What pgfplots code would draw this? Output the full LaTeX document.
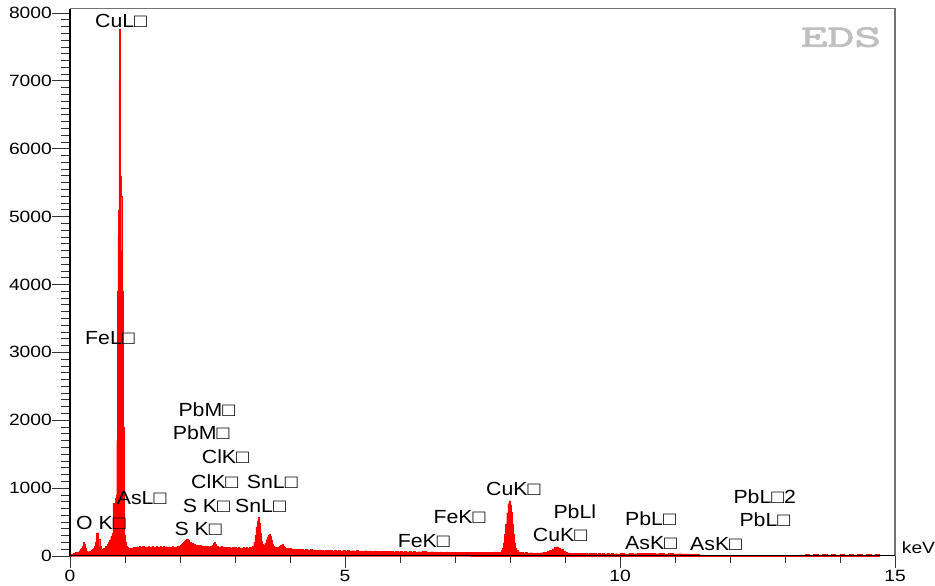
\documentclass[border=0pt]{standalone}
\usepackage{fontspec}
\setmainfont{Liberation Sans}[FakeStretch=1.18]
\newfontfamily\labfont{Liberation Sans}[FakeStretch=1.12]
\newfontfamily\edsfont{Latin Modern Mono}[FakeBold=2.8, FakeStretch=1.68]
\usepackage{pgfplots}
\pgfplotsset{compat=1.18}
\newcommand\lab{\labfont\fontsize{19}{22}\selectfont}
\newcommand\tck{\fontsize{16.3}{19}\selectfont}
\begin{document}
\begin{tikzpicture}
\useasboundingbox (-70pt,-30pt) rectangle (865pt,556pt);
\begin{axis}[at={(0pt,0pt)}, anchor=south west, scale only axis,
  width=825pt, height=547.3pt, xmin=0, xmax=15, ymin=0, ymax=8063,
  axis line style={draw=none}, tick align=outside,
  xtick={0,5,10,15}, minor xtick={1,2,3,4,6,7,8,9,11,12,13,14},
  xtick pos=left, ytick=\empty,
  major tick length=12pt, minor tick length=7pt,
  tick style={black!80, line width=0.8pt},
  xticklabel style={font=\tck, inner sep=0pt, anchor=north, yshift=-2pt},
  /pgf/number format/assume math mode=true, clip=false]
\addplot[const plot, fill=red, draw=red, line width=0.3pt] coordinates {
(0.00,0)(0.02,20)(0.04,30)(0.06,40)(0.08,35)(0.10,50)(0.12,60)(0.14,55)(0.16,75)(0.18,95)
(0.20,110)(0.22,150)(0.24,205)(0.26,170)(0.28,110)(0.30,70)(0.32,60)(0.34,75)(0.36,70)(0.38,90)
(0.40,95)(0.42,110)(0.44,140)(0.46,200)(0.48,330)(0.50,340)(0.52,250)(0.54,140)(0.56,95)(0.58,90)
(0.60,110)(0.62,120)(0.64,140)(0.66,150)(0.68,170)(0.70,200)(0.72,240)(0.74,290)(0.76,330)(0.78,780)
(0.80,700)(0.82,850)(0.84,900)(0.85,1700)(0.86,3900)(0.87,4700)(0.88,5100)(0.89,7000)(0.90,7760)(0.91,6180)
(0.92,5600)(0.93,5300)(0.94,4500)(0.95,3900)(0.96,3800)(0.97,1900)(0.98,400)(0.99,300)(1.00,200)(1.02,150)
(1.04,130)(1.06,110)(1.08,120)(1.10,105)(1.12,115)(1.14,125)(1.16,110)(1.18,130)(1.20,120)(1.22,135)
(1.24,125)(1.26,140)(1.28,130)(1.30,125)(1.32,140)(1.34,130)(1.36,120)(1.38,135)(1.40,125)(1.42,140)
(1.44,130)(1.46,120)(1.48,135)(1.50,140)(1.52,125)(1.54,130)(1.56,145)(1.58,130)(1.60,120)(1.62,135)
(1.64,140)(1.66,125)(1.68,130)(1.70,140)(1.72,125)(1.74,135)(1.76,130)(1.78,120)(1.80,135)(1.82,125)
(1.84,130)(1.86,140)(1.88,135)(1.90,125)(1.92,130)(1.94,140)(1.96,150)(1.98,145)
(2.00,160)(2.02,170)(2.04,185)(2.06,200)(2.08,225)(2.10,240)(2.12,250)(2.14,230)(2.16,210)(2.18,200)
(2.20,185)(2.22,190)(2.24,175)(2.26,170)(2.28,160)(2.30,165)(2.32,155)(2.34,150)(2.36,160)(2.38,145)
(2.40,140)(2.42,150)(2.44,140)(2.46,135)(2.48,145)(2.50,140)(2.52,135)(2.54,145)(2.56,150)(2.58,165)
(2.60,190)(2.62,200)(2.64,175)(2.66,150)(2.68,140)(2.70,135)(2.72,130)(2.74,140)(2.76,125)(2.78,130)
(2.80,135)(2.82,125)(2.84,130)(2.86,120)(2.88,125)(2.90,130)(2.92,120)(2.94,125)(2.96,130)(2.98,120)
(3.00,125)(3.02,120)(3.04,115)(3.06,125)(3.08,120)(3.10,115)(3.12,120)(3.14,125)(3.16,115)(3.18,120)
(3.20,125)(3.22,115)(3.24,120)(3.26,125)(3.28,120)(3.30,130)(3.32,150)(3.34,200)(3.36,300)(3.38,430)
(3.40,520)(3.42,570)(3.44,480)(3.46,330)(3.48,220)(3.50,170)(3.52,160)(3.54,190)(3.56,240)(3.58,280)
(3.60,310)(3.62,320)(3.64,290)(3.66,230)(3.68,180)(3.70,150)(3.72,135)(3.74,130)(3.76,125)(3.78,135)
(3.80,140)(3.82,155)(3.84,165)(3.86,170)(3.88,150)(3.90,130)(3.92,120)(3.94,110)(3.96,115)(3.98,105)
(4.00,110)(4.02,100)(4.04,105)(4.06,95)(4.08,100)(4.10,105)(4.12,95)(4.14,100)(4.16,90)(4.18,95)
(4.20,95)(4.24,90)(4.28,100)(4.32,85)(4.36,95)(4.40,88)(4.44,92)(4.48,80)(4.52,90)(4.56,85)
(4.60,78)(4.64,88)(4.68,80)(4.72,85)(4.76,75)(4.80,82)(4.84,78)(4.88,86)(4.92,74)(4.96,80)
(5.00,76)(5.04,84)(5.08,72)(5.12,78)(5.16,75)(5.20,80)(5.24,70)(5.28,76)(5.32,72)(5.36,78)
(5.40,68)(5.44,74)(5.48,70)(5.52,76)(5.56,66)(5.60,72)(5.64,68)(5.68,74)(5.72,65)(5.76,70)
(5.80,66)(5.84,72)(5.88,62)(5.92,68)(5.96,64)(6.00,70)(6.04,62)(6.08,66)(6.12,60)(6.16,68)
(6.20,62)(6.24,66)(6.28,58)(6.32,64)(6.36,60)(6.40,66)(6.44,70)(6.48,62)(6.52,58)(6.56,64)
(6.60,58)(6.64,62)(6.68,56)(6.72,62)(6.76,58)(6.80,55)(6.84,60)(6.88,54)(6.92,58)(6.96,52)
(7.00,56)(7.04,54)(7.08,58)(7.12,52)(7.16,56)(7.20,50)(7.24,55)(7.28,52)(7.32,56)(7.36,50)
(7.40,54)(7.44,50)(7.48,55)(7.52,52)(7.56,50)(7.60,54)(7.64,52)(7.68,56)(7.72,60)
(7.74,58)(7.76,55)(7.78,60)(7.80,58)(7.82,61)(7.84,80)(7.86,121)(7.88,196)(7.90,316)(7.92,472)
(7.94,637)(7.96,770)(7.98,815)(8.00,755)(8.02,640)(8.04,470)(8.06,320)(8.08,195)(8.10,120)(8.12,82)
(8.14,62)(8.16,55)(8.18,52)
(8.20,50)(8.24,46)(8.28,50)(8.32,44)(8.36,48)(8.40,45)(8.44,42)(8.48,47)(8.52,44)(8.56,48)
(8.60,50)(8.64,55)(8.68,65)(8.72,85)(8.76,105)(8.80,125)(8.84,135)(8.88,120)(8.92,95)(8.96,72)
(9.00,55)(9.04,46)(9.08,42)(9.12,38)(9.16,44)(9.20,36)(9.24,40)(9.28,35)(9.32,42)(9.36,38)
(9.40,34)(9.44,40)(9.48,36)(9.52,38)(9.56,33)(9.60,38)(9.64,34)(9.68,37)(9.72,32)(9.76,36)
(9.80,33)(9.84,35)(9.88,30)(9.92,34)(9.96,31)
(10.00,36)(10.08,32)(10.16,38)(10.24,34)(10.32,40)(10.40,36)(10.48,42)(10.56,38)(10.64,34)(10.72,38)
(10.80,32)(10.88,36)(10.96,30)(11.04,34)(11.12,30)(11.20,33)(11.28,28)(11.36,30)(11.44,12)(11.80,10)
(12.20,12)(12.60,9)(13.00,11)(13.36,22)(13.44,12)(13.52,25)(13.60,15)(13.68,28)(13.76,12)(13.84,24)
(13.92,14)(14.00,26)(14.08,12)(14.16,22)(14.24,15)(14.32,27)(14.40,12)(14.48,24)(14.56,14)(14.64,20)
(14.72,0)
} \closedcycle;
\end{axis}
\begin{axis}[at={(0pt,0pt)}, anchor=south west, scale only axis,
  width=825pt, height=547.3pt, xmin=0, xmax=15, ymin=0, ymax=8063,
  axis line style={draw=none}, tick align=outside,
  xtick=\empty, ytick={0,1000,...,8000}, minor y tick num=9, ytick pos=left,
  major tick length=18pt, minor tick length=8.5pt,
  tick style={black!80, line width=0.8pt},
  yticklabel style={font=\tck, inner sep=0pt, anchor=east},
  /pgf/number format/assume math mode=true,
  /pgf/number format/1000 sep={}]
\end{axis}
\draw[black!55, line width=1.2pt] (0pt,547.3pt) -- (825pt,547.3pt) -- (825pt,0pt);
\draw[black, line width=1pt] (0pt,0pt) -- (825pt,0pt);
\draw[black, line width=1.6pt] (0pt,0pt) -- (0pt,547.3pt);
\begin{scope}[every node/.style={anchor=base west, inner sep=0pt, font=\lab}]
\node at (25pt,528pt) {CuL□};
\node at (15pt,211pt) {FeL□};
\node at (6pt,26pt) {O K□};
\node at (46.7pt,51pt) {AsL□};
\node at (108.3pt,139.3pt) {PbM□};
\node at (102.7pt,116pt) {PbM□};
\node at (131.7pt,92pt) {ClK□};
\node at (121pt,67.7pt) {ClK□};
\node at (176.7pt,67pt) {SnL□};
\node at (112.7pt,43.7pt) {S K□};
\node at (165pt,43.5pt) {SnL□};
\node at (104.3pt,20.3pt) {S K□};
\node at (327.7pt,8.3pt) {FeK□};
\node at (363.3pt,32.7pt) {FeK□};
\node at (416pt,60pt) {CuK□};
\node at (483.3pt,37.7pt) {PbLl};
\node at (462.7pt,14.3pt) {CuK□};
\node at (555pt,30pt) {PbL□};
\node at (555pt,6pt) {AsK□};
\node at (620pt,5pt) {AsK□};
\node at (663.3pt,52pt) {PbL□2};
\node at (669.3pt,29.3pt) {PbL□};
\node[font=\tck] at (831.7pt,2.7pt) {keV};
\node[text=black!25, font=\edsfont\fontsize{31}{35}\selectfont] at (730.5pt,509.3pt) {EDS};
\end{scope}
\end{tikzpicture}
\end{document}
